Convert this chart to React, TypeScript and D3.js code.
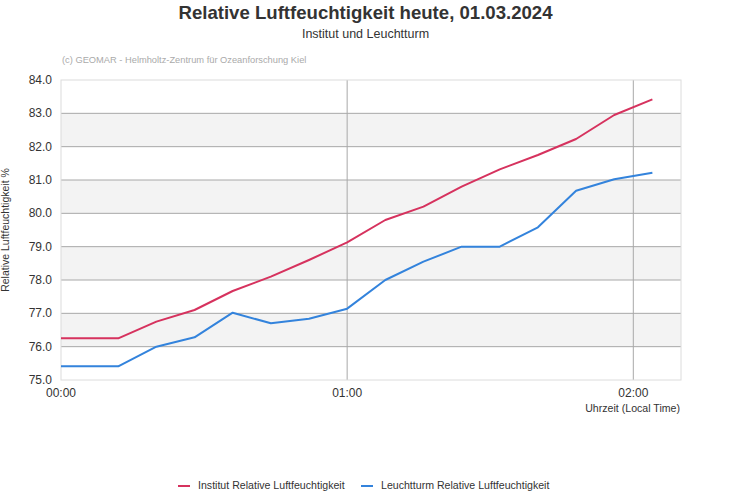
import React from "react";
import * as d3 from "d3";

const minutes = [0, 4, 12, 20, 28, 36, 44, 52, 60, 68, 76, 84, 92, 100, 108, 116, 124];
const institut = [76.25, 76.25, 76.25, 76.75, 77.1, 77.67, 78.1, 78.6, 79.13, 79.8, 80.2, 80.8, 81.32, 81.75, 82.23, 82.95, 83.42];
const leuchtturm = [75.41, 75.41, 75.41, 76.0, 76.28, 77.02, 76.7, 76.84, 77.14, 78.0, 78.55, 79.0, 79.0, 79.58, 80.68, 81.02, 81.22];
const yTicks = [75, 76, 77, 78, 79, 80, 81, 82, 83, 84];
const xTicks = [0, 60, 120];
const xTickLabels = ["00:00", "01:00", "02:00"];
const seriesNames = ["Institut Relative Luftfeuchtigkeit", "Leuchtturm Relative Luftfeuchtigkeit"];
const seriesColors = ["#d6325e", "#3383dc"];

export default function App() {
  const W = 731, H = 500;
  const left = 61, right = 681, top = 80, bottom = 380;
  const x = d3.scaleLinear().domain([0, 130]).range([left, right]);
  const y = d3.scaleLinear().domain([75, 84]).range([bottom, top]);
  const line = d3.line<[number, number]>().x(d => x(d[0])).y(d => y(d[1]));
  const series = [institut, leuchtturm];
  const font = "'Liberation Sans', Arial, sans-serif";
  return (
    <svg width={W} height={H} style={{ position: "absolute", left: 0, top: 0, fontFamily: font }}>
      <rect width={W} height={H} fill="#fff" />
      {yTicks.slice(0, -1).map((t, i) =>
        i % 2 === 1 ? (
          <rect key={"b" + t} x={left} y={y(t + 1)} width={right - left} height={y(t) - y(t + 1)} fill="#f3f3f3" />
        ) : null
      )}
      {yTicks.slice(1, -1).map(t => (
        <line key={"g" + t} x1={left} x2={right} y1={y(t)} y2={y(t)} stroke="#a8a8a8" strokeWidth={1} />
      ))}
      {xTicks.slice(1).map(t => (
        <line key={"v" + t} x1={x(t)} x2={x(t)} y1={top} y2={bottom} stroke="#a8a8a8" strokeWidth={1} />
      ))}
      <rect x={left} y={top} width={right - left} height={bottom - top} fill="none" stroke="#dcdcdc" strokeWidth={1} />
      {series.map((s, i) => (
        <path key={"s" + i} d={line(minutes.map((m, j) => [m, s[j]] as [number, number])) || ""} fill="none" stroke={seriesColors[i]} strokeWidth={2} strokeLinejoin="round" />
      ))}
      {yTicks.map(t => (
        <text key={"yl" + t} x={left - 9} y={y(t) + 4} textAnchor="end" fontSize={12} fill="#333">{t.toFixed(1)}</text>
      ))}
      {xTicks.map((t, i) => (
        <text key={"xl" + t} x={x(t)} y={bottom + 17} textAnchor="middle" fontSize={12} fill="#333">{xTickLabels[i]}</text>
      ))}
      <text x={right - 1} y={bottom + 32} textAnchor="end" fontSize={10.6} fill="#333">Uhrzeit (Local Time)</text>
      <text transform={`translate(9,${(top + bottom) / 2}) rotate(-90)`} textAnchor="middle" fontSize={10.5} fill="#333">Relative Luftfeuchtigkeit %</text>
      <text x={W / 2} y={19} textAnchor="middle" fontSize={18.6} fontWeight="bold" fill="#333">Relative Luftfeuchtigkeit heute, 01.03.2024</text>
      <text x={W / 2} y={38} textAnchor="middle" fontSize={12.5} fill="#333">Institut und Leuchtturm</text>
      <text x={62} y={63} fontSize={9.3} fill="#aaa">(c) GEOMAR - Helmholtz-Zentrum für Ozeanforschung Kiel</text>
      {seriesNames.map((n, i) => {
        const lx = i === 0 ? 178 : 361;
        return (
          <g key={"lg" + i}>
            <line x1={lx} x2={lx + 12} y1={486} y2={486} stroke={seriesColors[i]} strokeWidth={2} />
            <text x={lx + 20} y={489} fontSize={10.6} fill="#333">{n}</text>
          </g>
        );
      })}
    </svg>
  );
}
